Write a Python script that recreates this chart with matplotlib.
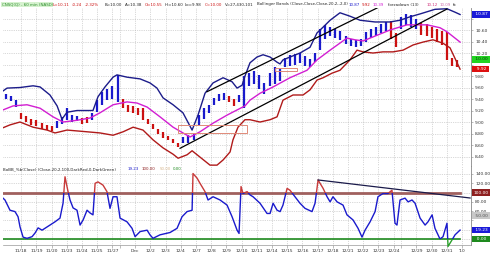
import matplotlib
matplotlib.use("Agg")
import matplotlib.pyplot as plt
from matplotlib.patches import Rectangle
import numpy as np

# ---------------- data ----------------
# x axis: trading-session index (1 unit = 1 full trading day, 11/17 = 0)
tick_pos = [1, 2, 3, 4, 5, 6, 7, 7.5, 8.5, 9.5, 10.5, 11.5, 12.5, 13.5, 14.5, 15.5,
            16.5, 17.5, 18.5, 19.5, 20.5, 21.5, 22.5, 23.5, 24.5, 25.5, 26, 27, 28, 29, 30]
tick_labels = ["11/18", "11/19", "11/20", "11/23", "11/24", "11/25", "11/27", "", "Dec",
               "12/2", "12/3", "12/4", "12/7", "12/8", "12/9", "12/10", "12/11", "12/14",
               "12/15", "12/16", "12/17", "12/18", "12/21", "12/22", "12/23", "12/24", "",
               "12/29", "12/30", "12/31", "'10"]

# price bars (3 per session)
bar_low = [9.40, 9.36, 9.26, 9.06, 9.00, 8.95, 8.93, 8.88, 8.86, 8.84,
           8.90, 8.96, 9.04, 9.00, 9.02, 8.97, 8.98, 9.03, 9.17, 9.30,
           9.38, 9.40, 9.35, 9.25, 9.18, 9.15, 9.12, 9.04, 8.96, 8.87,
           8.80, 8.73, 8.68, 8.63, 8.57, 8.63, 8.64, 8.68, 8.95, 9.05,
           9.15, 9.30, 9.36, 9.38, 9.34, 9.28, 9.35, 9.25, 9.62, 9.66,
           9.58, 9.48, 9.62, 9.66, 9.72, 9.95, 9.98, 10.00, 10.02, 9.98,
           9.96, 10.05, 10.25, 10.45, 10.50, 10.46, 10.42, 10.36, 10.32, 10.30,
           10.32, 10.40, 10.46, 10.50, 10.55, 10.58, 10.45, 10.30, 10.62, 10.68,
           10.66, 10.62, 10.52, 10.50, 10.46, 10.40, 10.34, 10.08, 9.98, 9.95]
bar_high = [9.48, 9.46, 9.38, 9.16, 9.10, 9.05, 9.03, 8.98, 8.95, 8.93,
            9.02, 9.08, 9.24, 9.12, 9.10, 9.07, 9.08, 9.15, 9.38, 9.52,
            9.58, 9.62, 9.82, 9.40, 9.30, 9.28, 9.25, 9.24, 9.06, 8.96,
            8.88, 8.82, 8.76, 8.70, 8.64, 8.74, 8.77, 8.80, 9.12, 9.25,
            9.30, 9.42, 9.48, 9.50, 9.46, 9.40, 9.47, 9.80, 9.85, 9.88,
            9.82, 9.68, 9.85, 9.95, 9.92, 10.12, 10.16, 10.18, 10.20, 10.14,
            10.10, 10.20, 10.62, 10.68, 10.66, 10.62, 10.58, 10.50, 10.44, 10.42,
            10.44, 10.56, 10.62, 10.66, 10.70, 10.74, 10.76, 10.55, 10.82, 10.88,
            10.86, 10.80, 10.72, 10.70, 10.66, 10.62, 10.58, 10.57, 10.12, 10.08]
bar_dir = ("bbb" "rrrrrrr" "bbbbb" "rr" "bbbbbb" "rrrrrrrrrrrr" "bbbbbbbbb" "rr"
           "bbbbbbbbbbbbbbbbbbbbbbbbbbbbbb" "rr" "bbbb" "rrrrrrrr")

# Bollinger bands
upper_x = [-0.20, 0.07, 0.92, 1.78, 2.24, 2.89, 3.36, 3.68, 4.01, 4.67, 5.72, 6.05, 6.51,
           7.04, 7.30, 7.96, 8.82, 9.47, 9.93, 10.33, 10.99, 11.64, 12.24, 12.63, 13.09,
           13.62, 14.28, 14.87, 15.20, 15.53, 15.72, 16.05, 16.51, 16.91, 17.37, 17.83,
           18.03, 18.22, 18.68, 19.34, 20.00, 20.46, 20.86, 21.32, 21.97, 22.63, 23.29,
           24.28, 25.26, 25.92, 26.58, 27.24, 28.22, 29.01, 29.54, 29.87]
upper_p = [9.54, 9.59, 9.60, 9.63, 9.61, 9.47, 9.28, 9.05, 9.17, 9.20, 9.20, 9.44, 9.61,
           9.78, 9.82, 9.78, 9.75, 9.68, 9.59, 9.42, 9.30, 9.16, 8.86, 9.12, 9.50,
           9.68, 9.77, 9.70, 9.59, 9.64, 9.80, 10.03, 10.13, 10.17, 10.13, 10.04,
           10.01, 10.08, 10.13, 10.20, 10.30, 10.55, 10.65, 10.77, 10.90, 10.84, 10.77,
           10.74, 10.74, 10.77, 10.83, 10.88, 10.96, 10.97, 10.91, 10.87]
mid_x = [-0.20, 0.46, 1.38, 2.24, 3.09, 3.75, 4.67, 5.53, 6.18, 7.04, 7.96, 8.62, 9.28,
         10.13, 10.99, 11.64, 12.11, 12.76, 13.62, 14.54, 15.20, 15.72, 16.05, 16.71,
         17.57, 18.68, 19.80, 20.46, 21.32, 22.43, 22.96, 23.49, 24.14, 25.26, 26.38,
         27.70, 28.55, 29.01, 29.87]
mid_p = [9.21, 9.28, 9.30, 9.24, 9.09, 9.00, 9.03, 9.07, 9.16, 9.30, 9.35, 9.33, 9.26,
         9.09, 8.91, 8.81, 8.74, 8.83, 8.98, 9.12, 9.21, 9.28, 9.38, 9.50,
         9.61, 9.77, 9.90, 10.08, 10.25, 10.46, 10.43, 10.41, 10.48, 10.60, 10.69,
         10.69, 10.64, 10.57, 10.39]
lower_x = [-0.20, 0.26, 0.92, 1.78, 2.70, 3.22, 3.55, 4.01, 5.33, 6.18, 7.04, 7.70, 8.36,
           9.01, 9.67, 10.33, 10.99, 11.32, 11.91, 12.24, 12.76, 13.42, 13.88, 14.28,
           14.74, 14.93, 15.26, 15.72, 16.05, 16.71, 17.37, 17.83, 18.22, 18.88, 19.54,
           20.00, 20.46, 20.86, 21.45, 21.97, 22.63, 23.09, 23.49, 24.14, 24.80, 25.46,
           26.12, 26.78, 27.43, 28.09, 28.75, 29.21, 29.87]
lower_p = [8.90, 8.95, 9.00, 8.91, 8.86, 8.81, 8.83, 8.86, 8.83, 8.81, 8.77, 8.83, 8.91,
           8.86, 8.69, 8.55, 8.44, 8.37, 8.43, 8.50, 8.39, 8.25, 8.25, 8.34,
           8.48, 8.69, 8.91, 9.04, 9.04, 9.00, 9.04, 9.09, 9.38, 9.47, 9.47,
           9.56, 9.73, 9.77, 9.85, 9.90, 10.08, 10.25, 10.22, 10.20, 10.22, 10.22,
           10.25, 10.34, 10.39, 10.43, 10.37, 10.29, 9.92]

# drawn trend lines / boxes on the price panel
chan_up_x, chan_up_p = [13.22, 24.41], [9.527, 10.983]
chan_lo_x, chan_lo_p = [11.45, 29.01], [8.543, 10.965]
box1_x, box1_p = [11.32, 15.86], [8.81, 8.95]
box2_x, box2_p = [17.70, 19.14], [9.887, 9.939]

# %b indicator
pctb_x = [-0.20, -0.07, 0.26, 0.59, 0.79, 0.92, 1.12, 1.38, 1.71, 1.91, 2.11, 2.37, 2.70,
          2.89, 3.22, 3.55, 3.68, 3.75, 3.88, 4.01, 4.08, 4.21, 4.41, 4.67, 4.87, 5.07,
          5.33, 5.53, 5.72, 5.86, 6.05, 6.38, 6.64, 6.84, 7.04, 7.30, 7.50, 7.96, 8.29,
          8.49, 8.82, 9.28, 9.47, 9.67, 10.13, 10.79, 11.25, 11.58, 11.91, 12.24, 12.30,
          12.57, 12.76, 13.09, 13.29, 13.62, 14.08, 14.54, 14.87, 15.20, 15.33, 15.46,
          15.59, 15.86, 16.05, 16.25, 16.71, 17.17, 17.37, 17.57, 17.83, 18.03, 18.22,
          18.49, 18.68, 19.01, 19.34, 19.67, 20.13, 20.33, 20.53, 20.86, 21.12, 21.32,
          21.51, 21.78, 22.17, 22.43, 22.83, 23.16, 23.42, 23.62, 23.95, 24.28, 24.47,
          24.80, 25.13, 25.39, 25.59, 25.72, 25.92, 26.25, 26.45, 26.71, 26.91, 27.24,
          27.57, 27.76, 28.03, 28.22, 28.55, 28.75, 29.01, 29.08, 29.34, 29.54, 29.87]
pctb_v = [88, 84, 62, 59, 48, 26, 4, 1.5, 5, 13, 24, 19, 26,
          30, 37, 45, 66, 77, 134, 113, 102, 84, 67, 62, 30, 41,
          62, 56, 52, 120, 123, 116, 102, 66, 91, 91, 45, 37, 23,
          5, 16, 19, 9, 1.5, 9, 14, 23, 48, 59, 62, 141,
          131, 120, 102, 84, 91, 84, 73, 48, 19, 12, 113,
          98, 102, 95, 91, 77, 55, 55, 77, 62, 59, 73,
          109, 105, 91, 77, 66, 59, 77, 127, 109, 91, 80,
          91, 80, 73, 52, 41, 23, 4, 19, 37, 59, 91,
          98, 98, 105, 34, 30, 84, 88, 80, 84, 77, 45,
          30, 37, 52, 23, 0, 5, 34, -16, -2, 9, 19.23]
pctb_trend_x, pctb_trend_v = [20.53, 30.53], [127.1, 88.3]
level_hi, level_lo, level_end = 100, 0, 29.87

# ---------------- styling ----------------
W, H = 490, 257
fig = plt.figure(figsize=(W / 100, H / 100), dpi=100)
fig.patch.set_facecolor("white")


def fx(px):
    return px / W


def fy(py):
    return 1 - py / H


L, R = 3, 471
ax1 = fig.add_axes([fx(L), fy(166), fx(R) - fx(L), fy(8) - fy(166)])
ax2 = fig.add_axes([fx(L), fy(245), fx(R) - fx(L), fy(166) - fy(245)])
XMIN, XMAX = -0.2, 30.59

FS = 3.2
HFS = 2.85
TXT = "#333333"
BLUE = "#1a1acc"
RED = "#cc1111"
NAVY = "#1c1c8a"
MAG = "#d21ed2"
LRED = "#b01a1a"
GRID = dict(color="#b4b4b4", lw=0.5, linestyle=(0, (1, 1.6)))

for ax in (ax1, ax2):
    ax.set_xlim(XMIN, XMAX)
    ax.set_facecolor("white")
    for s in ("top", "left"):
        ax.spines[s].set_visible(False)
    ax.spines["right"].set_color("#888888")
    ax.spines["right"].set_linewidth(0.6)
    ax.set_xticks(tick_pos)
    ax.grid(True, axis="both", **GRID)
    ax.set_axisbelow(True)
    ax.yaxis.tick_right()
    ax.tick_params(axis="y", length=1.5, width=0.4, pad=1.5, labelsize=FS,
                   labelcolor=TXT, color="#888888")

ax1.spines["bottom"].set_visible(False)
ax1.tick_params(axis="x", length=0, labelbottom=False)
ax2.spines["bottom"].set_color("#999999")
ax2.spines["bottom"].set_linewidth(0.5)
ax2.set_xticklabels(tick_labels)
ax2.tick_params(axis="x", length=2, width=0.4, pad=1, labelsize=FS, labelcolor=TXT,
                color="#888888")

# ----- price panel -----
ax1.set_ylim(8.235, 10.983)
pticks = [round(8.4 + 0.2 * i, 2) for i in range(13)]
ax1.set_yticks(pticks)
ax1.set_yticklabels(["" if t in (10.0, 10.8) else f"{t:.2f}" for t in pticks])

bar_x = np.arange(len(bar_low)) / 3.0
cols = [BLUE if c == "b" else RED for c in bar_dir]
ax1.vlines(bar_x, bar_low, bar_high, colors=cols, lw=1.6, zorder=3)

ax1.plot(upper_x, upper_p, color=NAVY, lw=1.0, zorder=4)
ax1.plot(mid_x, mid_p, color=MAG, lw=1.0, zorder=4)
ax1.plot(lower_x, lower_p, color=LRED, lw=1.0, zorder=4)
ax1.plot(chan_up_x, chan_up_p, color="black", lw=0.9, zorder=5)
ax1.plot(chan_lo_x, chan_lo_p, color="black", lw=0.9, zorder=5)
for bx, bp in ((box1_x, box1_p), (box2_x, box2_p)):
    ax1.add_patch(Rectangle((bx[0], bp[0]), bx[1] - bx[0], bp[1] - bp[0], fill=False,
                            ec="#e08a78", lw=0.7, zorder=5))


def vbox(ax, y, s, fc, tc):
    ax.text(1.006, y, s, transform=ax.get_yaxis_transform(), ha="left", va="center",
            fontsize=FS, color=tc, clip_on=False, zorder=10,
            bbox=dict(boxstyle="square,pad=0.3", fc=fc, ec="none"))


vbox(ax1, upper_p[-1], " 10.87 ", "#1a1ad8", "white")
vbox(ax1, 10.09, " 10.00 ", "#22d422", "#0a3a0a")
vbox(ax1, lower_p[-1], "  9.92 ", "#dd1111", "white")

# ----- %b panel -----
ax2.set_ylim(-12.9, 157.2)
bticks = list(range(0, 141, 20))
ax2.set_yticks(bticks)
ax2.set_yticklabels(["" if t in (0, 20, 40, 100) else f"{t:.2f}" for t in bticks])

ax2.plot([XMIN, level_end], [level_hi, level_hi], color="#a0605e", lw=2.0, zorder=3)
ax2.plot([XMIN, level_end], [level_lo, level_lo], color="#1e8a1e", lw=1.2, zorder=3)

for col, lo, hi in ((BLUE, 0, 100), ("#c83a3a", 100, 400), ("#2aa02a", -200, 0)):
    ln, = ax2.plot(pctb_x, pctb_v, color=col, lw=1.0, zorder=4)
    ln.set_clip_path(Rectangle((XMIN, lo), XMAX - XMIN, hi - lo, transform=ax2.transData))
ax2.plot(pctb_trend_x, pctb_trend_v, color="#1a1a4a", lw=0.9, zorder=5, clip_on=False)

vbox(ax2, 100, "100.00", "#8e1f1f", "white")
vbox(ax2, 50, " 50.00 ", "#c8c8c8", "#555555")
vbox(ax2, 19.23, " 19.23 ", "#1a1ad8", "white")
vbox(ax2, 0, "  0.00  ", "#1e8a1e", "white")


# ----- header texts -----
def put(px, py, s, color, bg=None, fs=HFS):
    kw = {}
    if bg:
        kw["bbox"] = dict(boxstyle="square,pad=0.1", fc=bg, ec="none")
    fig.text(fx(px), fy(py), s, fontsize=fs, color=color, ha="left", va="center", **kw)


DARK = "#222222"
header = [
    (1.5, "CNSQ(Q) - 60 min (NASD)", "#2c8c2c", "#d6f2cf"),
    (53, "L=10.11", RED, None), (72, "-0.24", RED, None), (85, "-2.32%", RED, None),
    (105, "B=10.00", DARK, None), (125, "A=10.38", DARK, None),
    (145, "O=10.55", RED, None), (165, "Hi=10.60", DARK, None),
    (185, "Lo=9.98", DARK, None), (205, "C=10.00", RED, None),
    (225, "V=27,430,101", DARK, None),
    (257, "Bollinger Bands (Close,Close,Close,20,2,-2,0)", DARK, None),
    (349, "10.87", BLUE, None), (362, "9.92", RED, None), (373, "10.39", MAG, None),
    (388, "forzadown (13)", DARK, None), (427, "10.12", "#d0307a", None),
    (440, "10.09", "#d070b0", None), (453, "fx", DARK, None),
]
for px, s, c, bg in header:
    put(px, 4.5, s, c, bg)

sub = [
    (3, "BoBB_%b(Close) (Close,20,2,100,DarkRed,0,DarkGreen)", DARK),
    (128, "19.23", BLUE), (142, "100.00", "#8e1f1f"), (160, "50.00", "#d8b890"),
    (173, "0.00", "#1e8a1e"),
]
for px, s, c in sub:
    put(px, 169, s, c)

fig.savefig("out.png", dpi=100, facecolor="white")
